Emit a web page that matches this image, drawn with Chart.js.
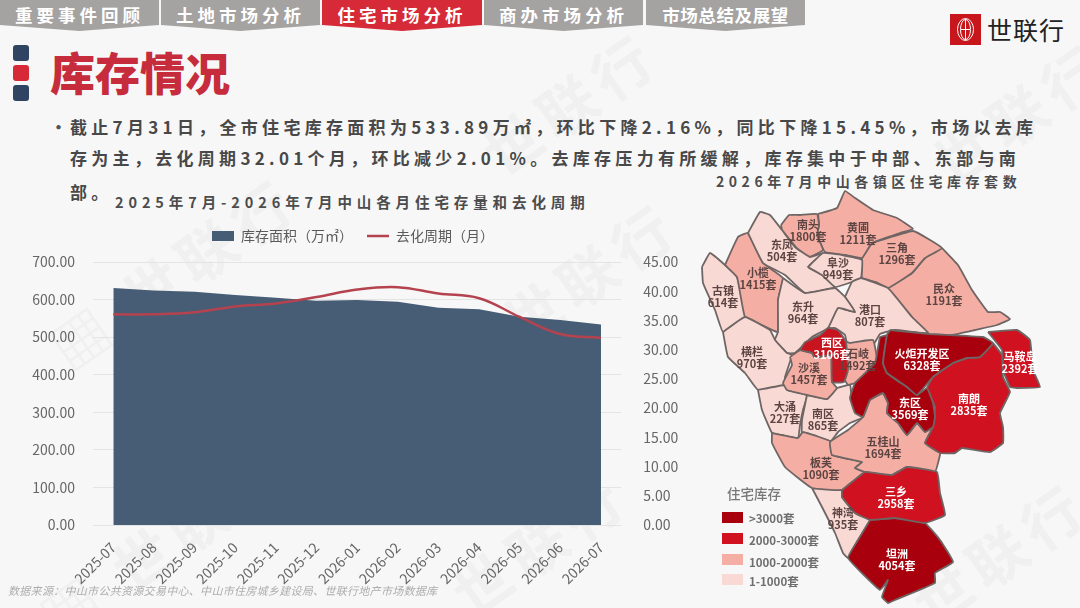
<!DOCTYPE html>
<html lang="zh">
<head>
<meta charset="utf-8">
<title>库存情况</title>
<script src="https://cdn.jsdelivr.net/npm/chart.js@4/dist/chart.umd.min.js"></script>
<style>
  html, body { margin: 0; padding: 0; }
  body { width: 1080px; height: 608px; overflow: hidden; position: relative; background: #f7f7f7;
         font-family: "Noto Sans CJK SC", "Noto Sans", sans-serif; }
  .abs { position: absolute; white-space: nowrap; }
  .wm { position: absolute; font-size: 58px; font-weight: 700; color: #f0f0f0; transform: rotate(-35deg); letter-spacing: 8px; white-space: nowrap; }
  .tab { position: absolute; top: 0; height: 31px; background: #a5a2a2; color: #fff; font-weight: 700; font-size: 17.5px; letter-spacing: 4px;
         line-height: 30px; text-align: center; clip-path: polygon(0 0, 100% 0, 100% 25px, 50% 31px, 0 25px); }
  .tab.on { background: #d62a38; }
  .blk { position: absolute; left: 13px; width: 16px; height: 16px; border-radius: 3px; background: #2e4460; }
  .line { left: 70px; font-size: 17px; font-weight: 700; color: #484848; letter-spacing: 4.3px; line-height: 24px; }
  .ctitle { font-size: 14px; font-weight: 700; color: #4c4c4c; letter-spacing: 4.55px; line-height: 20px; }
  canvas { position: absolute; }
  .sw { position: absolute; left: 722px; width: 21px; height: 11px; }
  .lg { left: 749px; font-size: 11.5px; font-weight: 700; color: #6e6e6e; line-height: 14px; }
</style>
</head>
<body>
<div class="wm" style="left:30px;top:230px">▦ 世联行</div>
<div class="wm" style="left:470px;top:60px">世联行</div>
<div class="wm" style="left:920px;top:70px">世联行</div>
<div class="wm" style="left:490px;top:230px">世联行</div>
<div class="wm" style="left:20px;top:500px">▦ 世联行</div>
<div class="wm" style="left:440px;top:500px">世联行</div>
<div class="wm" style="left:900px;top:510px">世联行</div>

<div class="tab" style="left:0;width:159px">重要事件回顾</div>
<div class="tab" style="left:161px;width:159px">土地市场分析</div>
<div class="tab on" style="left:322px;width:160px">住宅市场分析</div>
<div class="tab" style="left:484px;width:159px">商办市场分析</div>
<div class="tab" style="left:646px;width:159px;letter-spacing:.6px">市场总结及展望</div>

<svg class="abs" style="left:950px;top:14px" width="31" height="31" viewBox="0 0 31 31">
  <rect width="31" height="31" fill="#c8161d"/>
  <g fill="none" stroke="#fff" stroke-width="1">
    <ellipse cx="15.5" cy="15.5" rx="8" ry="11"/><ellipse cx="15.5" cy="15.5" rx="5" ry="10"/>
    <line x1="15.5" y1="5" x2="15.5" y2="26"/><line x1="11" y1="15.5" x2="20" y2="15.5"/>
  </g>
</svg>
<div class="abs" style="left:987px;top:11px;font-size:25px;line-height:36px;color:#222;letter-spacing:1px">世联行</div>

<div class="blk" style="top:45px"></div>
<div class="blk" style="top:65px;background:#d62a38"></div>
<div class="blk" style="top:85px"></div>
<div class="abs" style="left:50px;top:44px;font-size:45px;font-weight:900;color:#c62c3c;line-height:56px">库存情况</div>

<div class="abs" style="left:50px;top:115px;font-size:17px;font-weight:700;color:#555;line-height:24px">•</div>
<div class="abs line" style="top:115px">截止7月31日，全市住宅库存面积为533.89万㎡，环比下降2.16%，同比下降15.45%，市场以去库</div>
<div class="abs line" style="top:146px">存为主，去化周期32.01个月，环比减少2.01%。去库存压力有所缓解，库存集中于中部、东部与南</div>
<div class="abs line" style="top:180px">部。</div>

<div class="abs ctitle" style="left:115px;top:192px;font-size:14.5px;letter-spacing:4.9px">2025年7月-2026年7月中山各月住宅存量和去化周期</div>
<div class="abs ctitle" style="left:716px;top:171px">2026年7月中山各镇区住宅库存套数</div>

<canvas id="trend" width="706" height="377" style="left:0;top:215px"></canvas>
<canvas id="map" width="360" height="425" style="left:690px;top:185px"></canvas>

<div class="abs" style="left:727px;top:483px;font-size:13.5px;font-weight:500;color:#777;line-height:20px">住宅库存</div>
<div class="sw" style="top:512px;background:#a8000c"></div><div class="abs lg" style="top:511px">&gt;3000套</div>
<div class="sw" style="top:533px;background:#cf1120"></div><div class="abs lg" style="top:533px">2000-3000套</div>
<div class="sw" style="top:554px;background:#f4aea3"></div><div class="abs lg" style="top:555px">1000-2000套</div>
<div class="sw" style="top:574px;background:#f9d9d4"></div><div class="abs lg" style="top:574px">1-1000套</div>

<div class="abs" style="left:8px;top:582px;font-size:11px;font-style:italic;color:#adadad;line-height:16px;letter-spacing:.3px">数据来源：中山市公共资源交易中心、中山市住房城乡建设局、世联行地产市场数据库</div>

<script>
// 月度数据
const months = ['2025-07', '2025-08', '2025-09', '2025-10', '2025-11', '2025-12', '2026-01', '2026-02', '2026-03', '2026-04', '2026-05', '2026-06', '2026-07'];
const stockArea = [631, 624, 621, 612, 605, 597, 599, 594, 578, 574, 554, 545.7, 533.89];
const destockCycle = [36.05, 36.05, 36.4, 37.4, 37.9, 39, 40.3, 40.7, 39.6, 38.8, 35.6, 32.67, 32.01];

// 镇区数据，深色在前（后画，压在上面）
const regionNames = ['火炬开发区', '东区', '南朗', '马鞍岛', '三乡', '坦洲', '西区', '石岐', '沙溪', '五桂山', '板芙', '神湾', '南区', '大涌', '横栏', '东升', '港口', '阜沙', '东凤', '小榄', '古镇', '南头', '黄圃', '三角', '民众'];
const regionValues = [6328, 3569, 2835, 2392, 2958, 4054, 3106, 1492, 1457, 1694, 1090, 935, 865, 227, 970, 964, 807, 949, 504, 1415, 614, 1800, 1211, 1296, 1191];
// 地图边界和标注点，坐标轴与页面像素对齐
const regionShapes = [
  [[890,330],[930,334],[983,337],[993,343],[980,357],[967,358],[953,363],[933,377],[917,395],[907,387],[887,373],[883,363],[887,335]],
  [[887,335],[880,337],[875,363],[855,383],[850,398],[855,413],[863,417],[870,400],[883,393],[888,403],[887,413],[898,423],[907,435],[917,423],[925,432],[933,427],[935,417],[933,403],[927,388],[917,395],[907,387],[887,373],[883,363]],
  [[993,343],[1002,355],[1003,377],[1010,392],[1000,413],[1003,427],[1003,443],[990,452],[962,448],[955,453],[940,453],[925,443],[933,427],[935,407],[927,388],[933,377],[953,363],[967,358],[980,357]],
  [[988,332],[1017,330],[1030,340],[1033,370],[1040,387],[1017,388],[1010,387],[1003,370],[1002,350]],
  [[842,490],[852,482],[865,472],[892,475],[907,467],[937,472],[940,493],[945,515],[925,523],[895,518],[870,520],[855,513],[842,497]],
  [[870,520],[895,518],[925,523],[940,540],[953,562],[935,573],[935,583],[895,600],[888,603],[882,597],[888,580],[880,590],[848,558],[858,540]],
  [[805,342],[820,335],[828,328],[838,330],[846,342],[848,370],[844,382],[832,382],[831,355],[815,358],[812,353],[800,350]],
  [[850,343],[873,340],[877,363],[855,383],[848,385],[845,380],[846,342]],
  [[790,357],[800,350],[812,353],[815,358],[831,355],[832,382],[837,388],[827,399],[807,395],[787,390],[783,383],[792,365]],
  [[883,393],[888,403],[887,413],[898,423],[907,435],[917,423],[925,432],[933,427],[925,443],[940,453],[940,455],[935,472],[907,467],[892,475],[865,472],[855,468],[862,462],[832,455],[830,442],[848,430],[863,417],[870,400]],
  [[772,433],[798,438],[803,432],[832,442],[832,455],[862,462],[855,468],[865,472],[852,482],[842,490],[812,488],[785,467],[772,443]],
  [[812,488],[842,490],[842,497],[855,513],[870,520],[858,540],[848,558],[843,553],[835,533],[822,507]],
  [[807,395],[827,399],[837,388],[850,385],[852,400],[863,417],[850,423],[838,432],[830,442],[813,435],[802,440],[802,420]],
  [[758,390],[785,385],[787,390],[807,395],[803,410],[800,425],[798,438],[782,435],[772,433],[762,410]],
  [[723,332],[745,317],[770,330],[775,340],[787,353],[792,355],[785,377],[785,385],[758,390],[745,373],[728,357]],
  [[783,278],[805,293],[835,288],[845,297],[855,312],[838,308],[828,328],[812,337],[795,353],[787,353],[775,340],[778,332],[778,300]],
  [[845,297],[852,282],[861,278],[888,288],[912,317],[928,333],[895,330],[880,334],[873,345],[848,347],[845,335],[835,328],[828,328],[838,308],[855,312]],
  [[808,267],[823,253],[842,255],[862,260],[861,278],[852,282],[835,287],[822,275]],
  [[748,233],[760,212],[770,215],[782,230],[795,247],[810,257],[823,253],[808,267],[822,275],[835,287],[805,293],[785,275],[763,263]],
  [[725,265],[738,237],[748,233],[763,263],[783,278],[778,300],[778,332],[768,328],[745,317],[737,277]],
  [[702,267],[710,253],[725,265],[737,277],[745,317],[723,332],[715,310],[703,283]],
  [[781,225],[789,215],[800,215],[817,214],[819,225],[817,235],[823,250],[810,257],[800,252],[790,240],[782,230]],
  [[818,214],[837,208],[845,191],[855,198],[873,210],[897,218],[913,229],[900,233],[872,243],[862,258],[845,255],[825,252],[817,235],[819,225]],
  [[872,243],[913,231],[942,248],[925,258],[912,273],[888,288],[876,282],[862,278],[862,258]],
  [[942,248],[958,265],[972,290],[988,312],[1000,312],[1010,319],[997,325],[975,330],[952,335],[930,335],[912,317],[888,288],[912,273],[925,258]]
];
const regionLabelAt = [[922,354],[910,403],[969,399],[1020,357],[896,492],[897,554],[832,343],[858,354],[809,368],[883,442],[821,463],[843,513],[823,414],[785,407],[752,352],[803,307],[870,310],[838,263],[782,245],[758,273],[723,291],[808,225],[858,228],[897,248],[944,289]];

Chart.defaults.font.family = '"Noto Sans CJK SC", "Noto Sans", sans-serif';
Chart.defaults.animation = false;

function regionColor(name, v) {
  if (name === '西区') return '#c8141f'; // 原图西区用的是中红
  if (v > 3000) return '#a8000c';
  if (v > 2000) return '#cf1120';
  if (v > 1000) return '#f4aea3';
  return '#f9d9d4';
}

// 图例和绘图区之间留空
const legendGap = {
  id: 'legendGap',
  beforeInit(chart) {
    const fit = chart.legend.fit;
    chart.legend.fit = function () {
      fit.call(this);
      this.height += 9;
    };
  }
};

// 面积+折线
new Chart(document.getElementById('trend'), {
  type: 'line',
  data: {
    labels: months,
    datasets: [
      { label: '去化周期（月）', data: destockCycle, yAxisID: 'y1', borderColor: '#b4434f', backgroundColor: '#b4434f', borderWidth: 2.5, tension: 0.4, pointRadius: 0, pointStyle: 'line', order: 1 },
      { label: '库存面积（万㎡）', data: stockArea, yAxisID: 'y', borderWidth: 0, borderColor: '#475d75', backgroundColor: '#475d75', fill: 'origin', tension: 0, pointRadius: 0, pointStyle: 'rect', order: 2 }
    ]
  },
  options: {
    responsive: false,
    layout: { padding: 0 },
    plugins: {
      legend: {
        position: 'top',
        reverse: true,
        labels: { usePointStyle: true, pointStyleWidth: 22, boxHeight: 10, padding: 14, color: '#5a5a5a', font: { size: 14 } }
      },
      tooltip: { enabled: false }
    },
    scales: {
      x: {
        offset: true,
        grid: { display: false },
        border: { display: false },
        afterFit: s => { s.height = 67; },
        ticks: { maxRotation: 45, minRotation: 45, autoSkip: false, color: '#666', padding: 6, font: { size: 14 } }
      },
      y: {
        position: 'left', min: 0, max: 700,
        afterFit: s => { s.width = 93; },
        grid: { color: '#e4e4e4', drawTicks: false },
        border: { display: false },
        ticks: { stepSize: 100, padding: 18, color: '#666', font: { size: 14 }, callback: v => v.toFixed(2) }
      },
      y1: {
        position: 'right', min: 0, max: 45,
        afterFit: s => { s.width = 84.7; },
        grid: { display: false, drawOnChartArea: false },
        border: { display: false },
        ticks: { stepSize: 5, padding: 14, color: '#666', font: { size: 14 }, callback: v => v.toFixed(2) }
      }
    }
  },
  plugins: [legendGap]
});

// 镇区名字和套数
const regionLabels = {
  id: 'regionLabels',
  afterDatasetsDraw(chart) {
    const { ctx, scales } = chart;
    ctx.save();
    ctx.textAlign = 'center';
    ctx.textBaseline = 'middle';
    ctx.font = '700 11px "Noto Sans CJK SC"';
    regionNames.forEach((name, i) => {
      const px = scales.x.getPixelForValue(regionLabelAt[i][0]);
      const py = scales.y.getPixelForValue(regionLabelAt[i][1]);
      ctx.fillStyle = regionValues[i] > 2000 ? '#fff' : '#5c4442';
      ctx.fillText(name, px, py);
      ctx.fillText(regionValues[i] + '套', px, py + 12);
    });
    ctx.restore();
  }
};

// 地图：每个镇区一条闭合折线
new Chart(document.getElementById('map'), {
  type: 'scatter',
  data: {
    datasets: regionNames.map((name, i) => ({
      label: name,
      data: regionShapes[i].concat([regionShapes[i][0]]).map(p => ({ x: p[0], y: p[1] })),
      showLine: true,
      fill: 'shape',
      backgroundColor: regionColor(name, regionValues[i]),
      borderColor: '#6e6564',
      borderWidth: 1.8,
      borderJoinStyle: 'round',
      pointRadius: 0,
      tension: 0.1
    }))
  },
  options: {
    responsive: false,
    layout: { padding: 0 },
    plugins: { legend: { display: false }, tooltip: { enabled: false } },
    scales: {
      x: { type: 'linear', display: false, min: 690, max: 1050 },
      y: { type: 'linear', display: false, min: 185, max: 610, reverse: true }
    }
  },
  plugins: [regionLabels]
});
</script>
</body>
</html>
